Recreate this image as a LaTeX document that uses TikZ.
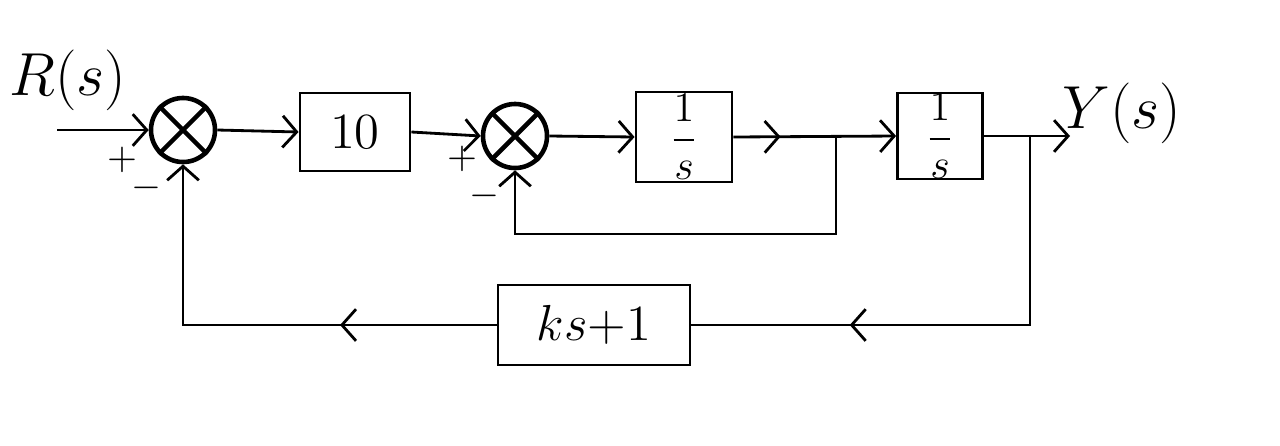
\documentclass[tikz,border=0pt]{standalone}
\usetikzlibrary{arrows.meta,decorations.markings}
\begin{document}
\begin{tikzpicture}[x=0.01cm, y=-0.01cm, line width=0.8pt, >={Straight Barb[length=4pt,width=9pt]},
    block/.style={draw, inner sep=0pt, font=\fontsize{15}{18}\selectfont},
    summe/.style={draw, circle, line width=1.3pt, inner sep=0pt, minimum size=0.64cm},
    zeichen/.style={inner sep=0pt, font=\fontsize{11}{13}\selectfont},
    signal/.style={font=\fontsize{16}{19}\selectfont},
    midpfeil/.style={postaction={decorate}, decoration={markings, mark=at position #1 with {\arrow{>}}}}]

        % Rahmen festlegen
        \useasboundingbox (0,0) rectangle (1280,445);

        % Summierstellen
        \node[summe] (s1) at (183,130) {};
        \node[summe] (s2) at (515,136) {};
        \draw[line width=1.3pt] (s1.45) -- (s1.225) (s1.135) -- (s1.-45);
        \draw[line width=1.3pt] (s2.45) -- (s2.225) (s2.135) -- (s2.-45);

        % Bloecke
        \node[block, minimum width=1.10cm, minimum height=0.78cm] (b10) at (355,132) {$10$};
        \node[block, minimum width=0.96cm, minimum height=0.90cm, font=\fontsize{12}{14}\selectfont] (g1) at (684,137) {$\displaystyle\frac{1}{s}$};
        \node[block, minimum width=0.85cm, minimum height=0.86cm, font=\fontsize{12}{14}\selectfont] (g2) at (940,136) {$\displaystyle\frac{1}{s}$};
        \node[block, minimum width=1.92cm, minimum height=0.80cm] (h) at (594,325) {$ks{+}1$};

        % Ein- und Ausgang
        \coordinate (r) at (57,130);
        \coordinate (y) at (1070,136);
        \node[signal] (rs) at (68,80) {$R(s)$};
        \node[signal] (ys) at (1122,113) {$Y(s)$};

        % Verzweigungen
        \coordinate (p1) at (836,136);
        \coordinate (p2) at (1030,136);
        \coordinate (k1) at (836,234);

        % Vorwaertszweig
        \draw[->] (r) -- (s1.west);
        \draw[->] (s1.east) -- (b10.west);
        \draw[->] (b10.east) -- (s2.west);
        \draw[->] (s2.east) -- (g1.west);
        \draw[->, midpfeil=0.29] (g1.east) -- (g2.west);
        \draw[->] (g2.east) -- (y);

        % Rueckfuehrungen
        \draw[->] (p1) -- (k1) -| (s2.south);
        \draw[midpfeil=0.70] (p2) |- (h.east);
        \draw[->, midpfeil=0.33] (h.west) -| (s1.south);

        % Vorzeichen
        \node[zeichen] (plus1) at (122,160) {$+$};
        \node[zeichen] (minus1) at (146,188) {$-$};
        \node[zeichen] (plus2) at (462,159) {$+$};
        \node[zeichen] (minus2) at (484,196) {$-$};

    \end{tikzpicture}
\end{document}
